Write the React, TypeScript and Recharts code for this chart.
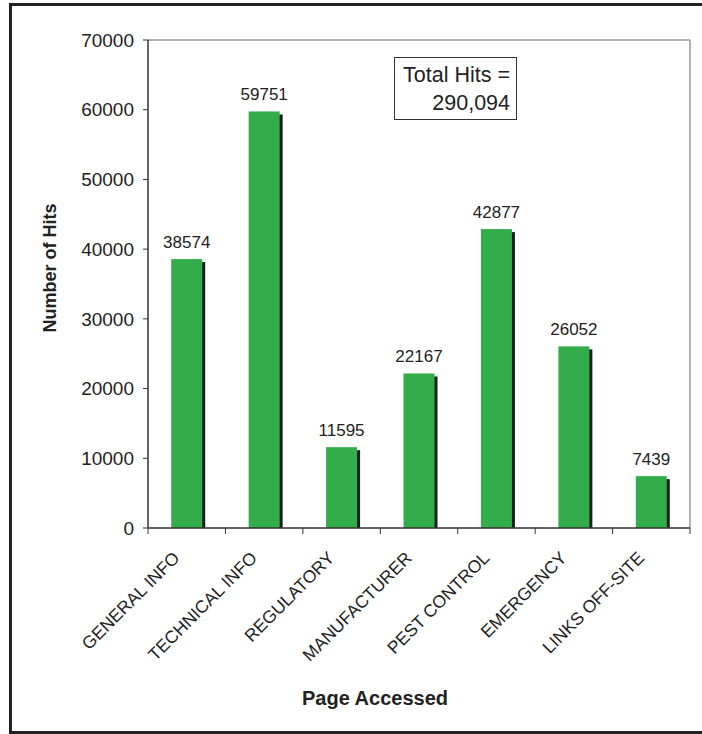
import React from "react";
import {
  BarChart,
  Bar,
  XAxis,
  YAxis,
  LabelList,
  ReferenceLine,
} from "recharts";

const pages = [
  "GENERAL INFO",
  "TECHNICAL INFO",
  "REGULATORY",
  "MANUFACTURER",
  "PEST CONTROL",
  "EMERGENCY",
  "LINKS OFF-SITE",
];
const hits = [38574, 59751, 11595, 22167, 42877, 26052, 7439];
const yTicks = [0, 10000, 20000, 30000, 40000, 50000, 60000, 70000];
const totalLines = ["Total Hits =", "290,094"];

const data = pages.map((page, i) => ({ page, hits: hits[i] }));

const W = 702;
const H = 734;
const PLOT_LEFT = 148;
const PLOT_RIGHT = 690;
const PLOT_BOTTOM = 528;
const BAND = (PLOT_RIGHT - PLOT_LEFT) / pages.length;

const GREEN = "#32ad4a";
const INK = "#222";
const FONT = "Arial, 'Liberation Sans', sans-serif";

function ShadowBar(props: any) {
  const { x, y, width, height } = props;
  if (height <= 0) return null;
  return (
    <g>
      <rect x={x + 3} y={y + 3} width={width} height={height - 3} fill="#1e1e1e" />
      <rect x={x} y={y} width={width} height={height} fill={GREEN} />
    </g>
  );
}

function PageTick(props: any) {
  const { x, payload, index } = props;
  const ax = x - 6;
  const ay = 559;
  const left = x - BAND / 2;
  return (
    <g>
      <line x1={left} y1={PLOT_BOTTOM} x2={left} y2={PLOT_BOTTOM + 6} stroke="#333" />
      {index === pages.length - 1 && (
        <line x1={x + BAND / 2} y1={PLOT_BOTTOM} x2={x + BAND / 2} y2={PLOT_BOTTOM + 6} stroke="#333" />
      )}
      <text
        x={ax}
        y={ay}
        transform={`rotate(-45 ${ax} ${ay})`}
        textAnchor="end"
        fontFamily={FONT}
        fontSize={17.5}
        fill={INK}
      >
        {payload.value}
      </text>
    </g>
  );
}

export default function App() {
  return (
    <div style={{ position: "absolute", left: 0, top: 0, width: W, height: H, background: "#fff", overflow: "hidden" }}>
      <div
        style={{
          position: "absolute",
          left: 9,
          top: 3,
          width: 710,
          height: 731,
          border: "3px solid #222",
          boxSizing: "border-box",
        }}
      />
      <BarChart
        width={W}
        height={H}
        data={data}
        margin={{ top: 40, right: W - PLOT_RIGHT, bottom: 56, left: 88 }}
        barCategoryGap="30%"
      >
        <ReferenceLine y={70000} stroke="#999" strokeWidth={1.5} />
        <ReferenceLine x="LINKS OFF-SITE" position="end" stroke="#999" strokeWidth={1.5} />
        <XAxis
          dataKey="page"
          height={150}
          interval={0}
          axisLine={{ stroke: "#333", strokeWidth: 1.5 }}
          tickLine={false}
          tick={<PageTick />}
          label={{
            content: () => (
              <text
                x={375}
                y={705}
                textAnchor="middle"
                fontFamily={FONT}
                fontSize={20}
                fontWeight="bold"
                fill={INK}
              >
                Page Accessed
              </text>
            ),
          }}
        />
        <YAxis
          width={60}
          domain={[0, 70000]}
          ticks={yTicks}
          interval={0}
          tickSize={5}
          tickMargin={9}
          axisLine={{ stroke: "#333", strokeWidth: 1.5 }}
          tickLine={{ stroke: "#333" }}
          tick={{ fontFamily: FONT, fontSize: 19, fill: INK }}
          label={{
            content: () => (
              <text
                x={56}
                y={268}
                transform="rotate(-90 56 268)"
                textAnchor="middle"
                fontFamily={FONT}
                fontSize={18}
                fontWeight="bold"
                fill={INK}
              >
                Number of Hits
              </text>
            ),
          }}
        />
        <Bar dataKey="hits" shape={<ShadowBar />} isAnimationActive={false}>
          <LabelList
            dataKey="hits"
            position="top"
            offset={11}
            fontFamily={FONT}
            fontSize={17}
            fill={INK}
          />
        </Bar>
      </BarChart>
      <div
        style={{
          position: "absolute",
          left: 394,
          top: 57,
          width: 123,
          height: 63,
          border: "1.5px solid #333",
          boxSizing: "border-box",
          background: "#fff",
          fontFamily: FONT,
          fontSize: 21.5,
          color: INK,
          textAlign: "right",
          paddingRight: 6,
          paddingTop: 3,
          lineHeight: "28px",
        }}
      >
        {totalLines.map((t) => (
          <div key={t} style={{ whiteSpace: "nowrap" }}>{t}</div>
        ))}
      </div>
    </div>
  );
}
